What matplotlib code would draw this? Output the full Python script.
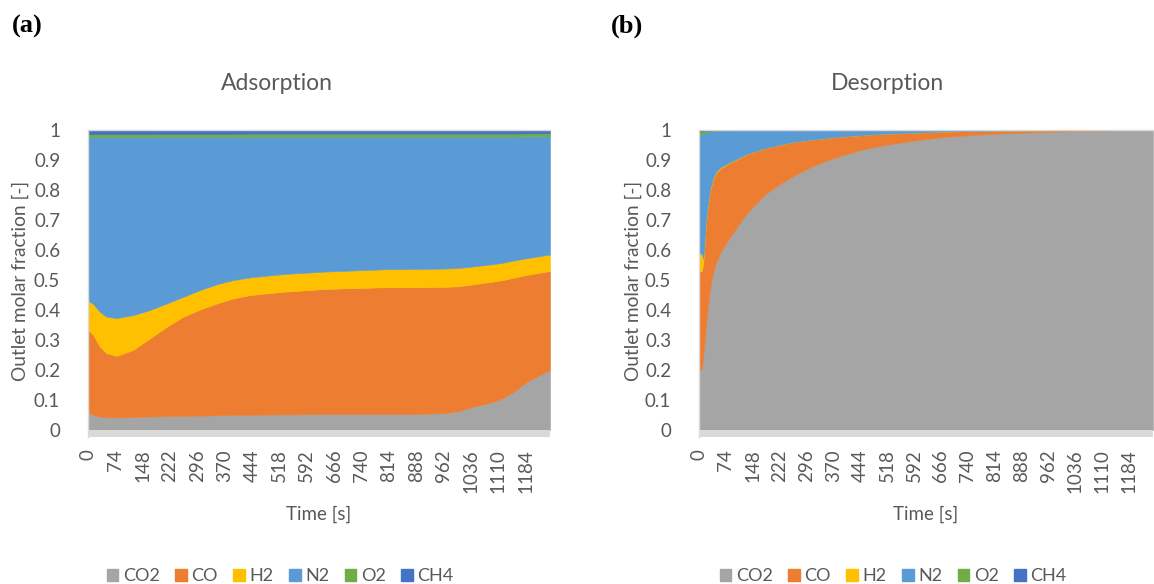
import matplotlib
matplotlib.use("Agg")
import matplotlib.pyplot as plt
from matplotlib.patches import Patch

plt.rcParams['font.family'] = ['Lato', 'DejaVu Sans']

# ---------------- data ----------------
species = ["CO2", "CO", "H2", "N2", "O2", "CH4"]
colors = ["#A5A5A5", "#ED7D31", "#FFC000", "#5B9BD5", "#70AD47", "#4472C4"]

time_ticks = [0, 74, 148, 222, 296, 370, 444, 518, 592, 666, 740, 814,
              888, 962, 1036, 1110, 1184]
frac_ticks = [0, 0.1, 0.2, 0.3, 0.4, 0.5, 0.6, 0.7, 0.8, 0.9, 1]

# Adsorption step: outlet molar fractions
t_ads = [0, 4, 14, 32, 50, 77, 122, 168, 213, 258, 304, 349, 394, 440,
         530, 639, 807, 900, 962, 1000, 1034, 1061, 1097, 1124, 1152,
         1188, 1220, 1250]
co2_ads = [0.080, 0.056, 0.050, 0.045, 0.043, 0.042, 0.043, 0.045, 0.046,
           0.047, 0.048, 0.049, 0.050, 0.051, 0.052, 0.053, 0.053, 0.054,
           0.056, 0.062, 0.075, 0.083, 0.094, 0.108, 0.128, 0.161, 0.182,
           0.200]
co_ads = [0.250, 0.274, 0.267, 0.233, 0.213, 0.205, 0.224, 0.261, 0.298,
          0.331, 0.354, 0.373, 0.389, 0.399, 0.409, 0.417, 0.423, 0.422,
          0.421, 0.417, 0.409, 0.406, 0.401, 0.392, 0.380, 0.356, 0.342,
          0.330]
h2_ads = [0.110, 0.098, 0.103, 0.116, 0.122, 0.126, 0.116, 0.094, 0.078,
          0.066, 0.065, 0.064, 0.061, 0.059, 0.059, 0.058, 0.060, 0.061,
          0.061, 0.061, 0.060, 0.059, 0.058, 0.058, 0.057, 0.056, 0.055,
          0.055]
n2_ads = [0.536, 0.548, 0.556, 0.582, 0.598, 0.603, 0.593, 0.576, 0.555,
          0.533, 0.510, 0.491, 0.477, 0.469, 0.458, 0.450, 0.442, 0.441,
          0.440, 0.438, 0.434, 0.430, 0.425, 0.420, 0.413, 0.406, 0.400,
          0.394]
o2_ads = [0.010, 0.010, 0.010, 0.010, 0.010, 0.010, 0.010, 0.010, 0.010,
          0.010, 0.010, 0.010, 0.010, 0.010, 0.010, 0.010, 0.010, 0.010,
          0.010, 0.010, 0.010, 0.010, 0.010, 0.010, 0.010, 0.010, 0.010,
          0.010]
ch4_ads = [0.014, 0.014, 0.014, 0.014, 0.014, 0.014, 0.014, 0.014, 0.013,
           0.013, 0.013, 0.013, 0.013, 0.012, 0.012, 0.012, 0.012, 0.012,
           0.012, 0.012, 0.012, 0.012, 0.012, 0.012, 0.012, 0.011, 0.011,
           0.011]

# Desorption step: outlet molar fractions
t_des = [0, 8, 12, 16, 20, 24, 30, 37, 46, 60, 83, 128, 174, 219, 265,
         310, 356, 401, 447, 497, 592, 679, 770, 861, 962, 1043, 1150, 1250]
co2_des = [0.200, 0.205, 0.250, 0.300, 0.360, 0.410, 0.465, 0.515, 0.555,
           0.595, 0.639, 0.717, 0.778, 0.817, 0.850, 0.878, 0.900, 0.918,
           0.934, 0.947, 0.965, 0.977, 0.985, 0.990, 0.994, 0.997, 0.999,
           1.000]
co_des = [0.330, 0.325, 0.310, 0.340, 0.340, 0.335, 0.330, 0.315, 0.301,
          0.278, 0.250, 0.200, 0.159, 0.133, 0.111, 0.090, 0.074, 0.061,
          0.049, 0.040, 0.026, 0.018, 0.012, 0.008, 0.005, 0.003, 0.001,
          0.000]
h2_des = [0.060, 0.058, 0.010, 0.006, 0.004, 0.004, 0.004, 0.004, 0.004,
          0.003, 0.002, 0.001, 0.000, 0.000, 0.000, 0.000, 0.000, 0.000,
          0.000, 0.000, 0.000, 0.000, 0.000, 0.000, 0.000, 0.000, 0.000,
          0.000]
n2_des = [0.395, 0.397, 0.418, 0.345, 0.288, 0.245, 0.196, 0.163, 0.137,
          0.122, 0.108, 0.082, 0.063, 0.050, 0.039, 0.032, 0.026, 0.021,
          0.017, 0.013, 0.009, 0.005, 0.003, 0.002, 0.001, 0.000, 0.000,
          0.000]
o2_des = [0.010, 0.010, 0.008, 0.006, 0.005, 0.004, 0.003, 0.002, 0.002,
          0.001, 0.001, 0.000, 0.000, 0.000, 0.000, 0.000, 0.000, 0.000,
          0.000, 0.000, 0.000, 0.000, 0.000, 0.000, 0.000, 0.000, 0.000,
          0.000]
ch4_des = [0.005, 0.005, 0.004, 0.003, 0.003, 0.002, 0.002, 0.001, 0.001,
           0.001, 0.000, 0.000, 0.000, 0.000, 0.000, 0.000, 0.000, 0.000,
           0.000, 0.000, 0.000, 0.000, 0.000, 0.000, 0.000, 0.000, 0.000,
           0.000]

TEXT = "#595959"
FLOOR = "#D9D9D9"
W, H = 1154, 584

fig = plt.figure(figsize=(W / 100, H / 100), dpi=100)

floor_depth = 7 / 300.0


def draw_panel(left_px, right_px, t, series, title, title_x_px, ylabel_x_px):
    bottom_px = 437
    top_px = 130
    ax = fig.add_axes([left_px / W, (H - bottom_px) / H,
                       (right_px - left_px) / W, (bottom_px - top_px) / H])
    polys = ax.stackplot(t, *series, colors=colors, linewidth=0)
    for p, c in zip(polys, colors):
        p.set_edgecolor(c)
        p.set_linewidth(0.4)
    ax.axhspan(-floor_depth, 0, color=FLOOR, lw=0, zorder=3)
    ax.set_xlim(0, t[-1])
    ax.set_ylim(-floor_depth, 1.0)

    for side in ("right", "bottom"):
        ax.spines[side].set_visible(False)
    for side in ("left", "top"):
        ax.spines[side].set_color(FLOOR)
        ax.spines[side].set_linewidth(1.0)
        ax.spines[side].set_zorder(4)

    ax.set_xticks(time_ticks)
    ax.set_xticklabels([str(v) for v in time_ticks], rotation=90,
                       fontsize=13.5, color=TEXT, va="top")
    ax.set_yticks(frac_ticks)
    ax.set_yticklabels([("%g" % v) for v in frac_ticks], fontsize=13.5,
                       color=TEXT)
    ax.tick_params(axis="both", length=0)
    ax.tick_params(axis="x", pad=9)
    ax.tick_params(axis="y", pad=20)

    ax.set_xlabel("Time [s]", fontsize=13.5, color=TEXT, labelpad=9)
    fig.text(ylabel_x_px / W, 1 - 281 / H, "Outlet molar fraction [-]",
             rotation=90, ha="center", va="center", fontsize=13.8,
             color=TEXT)
    fig.text(title_x_px / W, 1 - 83 / H, title, ha="center", va="center",
             fontsize=16.5, color=TEXT)
    return ax


draw_panel(88, 550, t_ads,
           [co2_ads, co_ads, h2_ads, n2_ads, o2_ads, ch4_ads],
           "Adsorption", 277, 20)
draw_panel(699, 1153, t_des,
           [co2_des, co_des, h2_des, n2_des, o2_des, ch4_des],
           "Desorption", 888, 633)

fig.text(27 / W, 1 - 26 / H, "(a)", ha="center", va="center",
         fontsize=19, fontweight="bold", family="Liberation Serif")
fig.text(627 / W, 1 - 26 / H, "(b)", ha="center", va="center",
         fontsize=19, fontweight="bold", family="Liberation Serif")

handles = [Patch(facecolor=c, edgecolor=c, label=s)
           for s, c in zip(species, colors)]
for cx in (280, 893):
    fig.legend(handles=handles, loc="center", ncol=6, frameon=False,
               bbox_to_anchor=(cx / W, 1 - 576 / H), fontsize=13,
               labelcolor=TEXT, handlelength=0.65, handleheight=0.65,
               handletextpad=0.25, columnspacing=0.85, borderaxespad=0)

fig.savefig("out.png", dpi=100)
